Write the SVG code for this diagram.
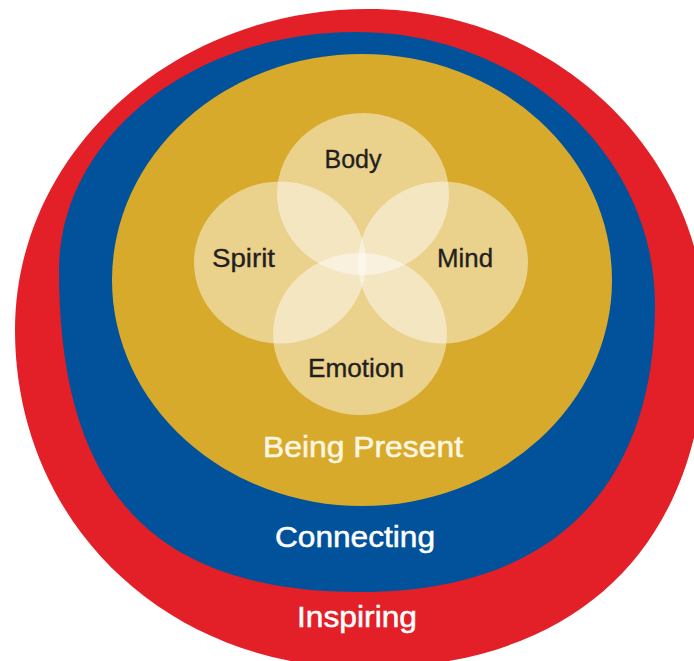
<svg xmlns="http://www.w3.org/2000/svg" width="694" height="661" viewBox="0 0 694 661">
  <style>
    .lbl { font-family: "Liberation Sans", Arial, sans-serif; font-size: 26px; fill: #231f20; stroke: #231f20; stroke-width: 0.35px; text-anchor: middle; }
    .ring-lbl { font-family: "Liberation Sans", Arial, sans-serif; font-size: 29px; fill: #ffffff; stroke: #ffffff; stroke-width: 0.5px; text-anchor: middle; }
    .petal { fill: #ffffff; fill-opacity: 0.46; }
  </style>
  <rect width="694" height="661" fill="#ffffff"/>
  <g id="ring-inspiring">
    <path fill="#E31F27" d="M368,9 C554.7,9 706,153.6 706,332 C706,543.7 579.8,668 365,668 C165.5,668 15,522.7 15,330 C15,152.7 173,9 368,9 Z"/>
    <text class="ring-lbl" x="357" y="627" textLength="120" lengthAdjust="spacingAndGlyphs">Inspiring</text>
  </g>
  <g id="ring-connecting">
    <path fill="#02529B" d="M356,32 C521.1,32 655,154.2 655,305 C655,473 566.5,592 360,592 C135,592 59,470 59,270 C59,138.6 192,32 356,32 Z"/>
    <text class="ring-lbl" x="355" y="547" textLength="160" lengthAdjust="spacingAndGlyphs">Connecting</text>
  </g>
  <g id="ring-being-present">
    <ellipse fill="#D8AA2B" cx="362" cy="280" rx="250" ry="226"/>
    <text class="ring-lbl" style="fill:#fdf6e0;stroke:#fdf6e0" x="363" y="457" textLength="200" lengthAdjust="spacingAndGlyphs">Being Present</text>
  </g>
  <g id="node-body">
    <ellipse class="petal" cx="363" cy="194" rx="86" ry="81"/>
  </g>
  <g id="node-spirit">
    <ellipse class="petal" cx="280" cy="262.5" rx="86" ry="81"/>
  </g>
  <g id="node-mind">
    <ellipse class="petal" cx="443" cy="262.5" rx="85" ry="81"/>
  </g>
  <g id="node-emotion">
    <ellipse class="petal" cx="360" cy="334" rx="87" ry="81"/>
  </g>
  <g id="labels">
    <text class="lbl" x="353" y="168" textLength="57" lengthAdjust="spacingAndGlyphs">Body</text>
    <text class="lbl" x="243.5" y="267" textLength="63" lengthAdjust="spacingAndGlyphs">Spirit</text>
    <text class="lbl" x="465" y="267" textLength="56" lengthAdjust="spacingAndGlyphs">Mind</text>
    <text class="lbl" x="356" y="377" textLength="96" lengthAdjust="spacingAndGlyphs">Emotion</text>
  </g>
  <g id="connectors"/>
</svg>
